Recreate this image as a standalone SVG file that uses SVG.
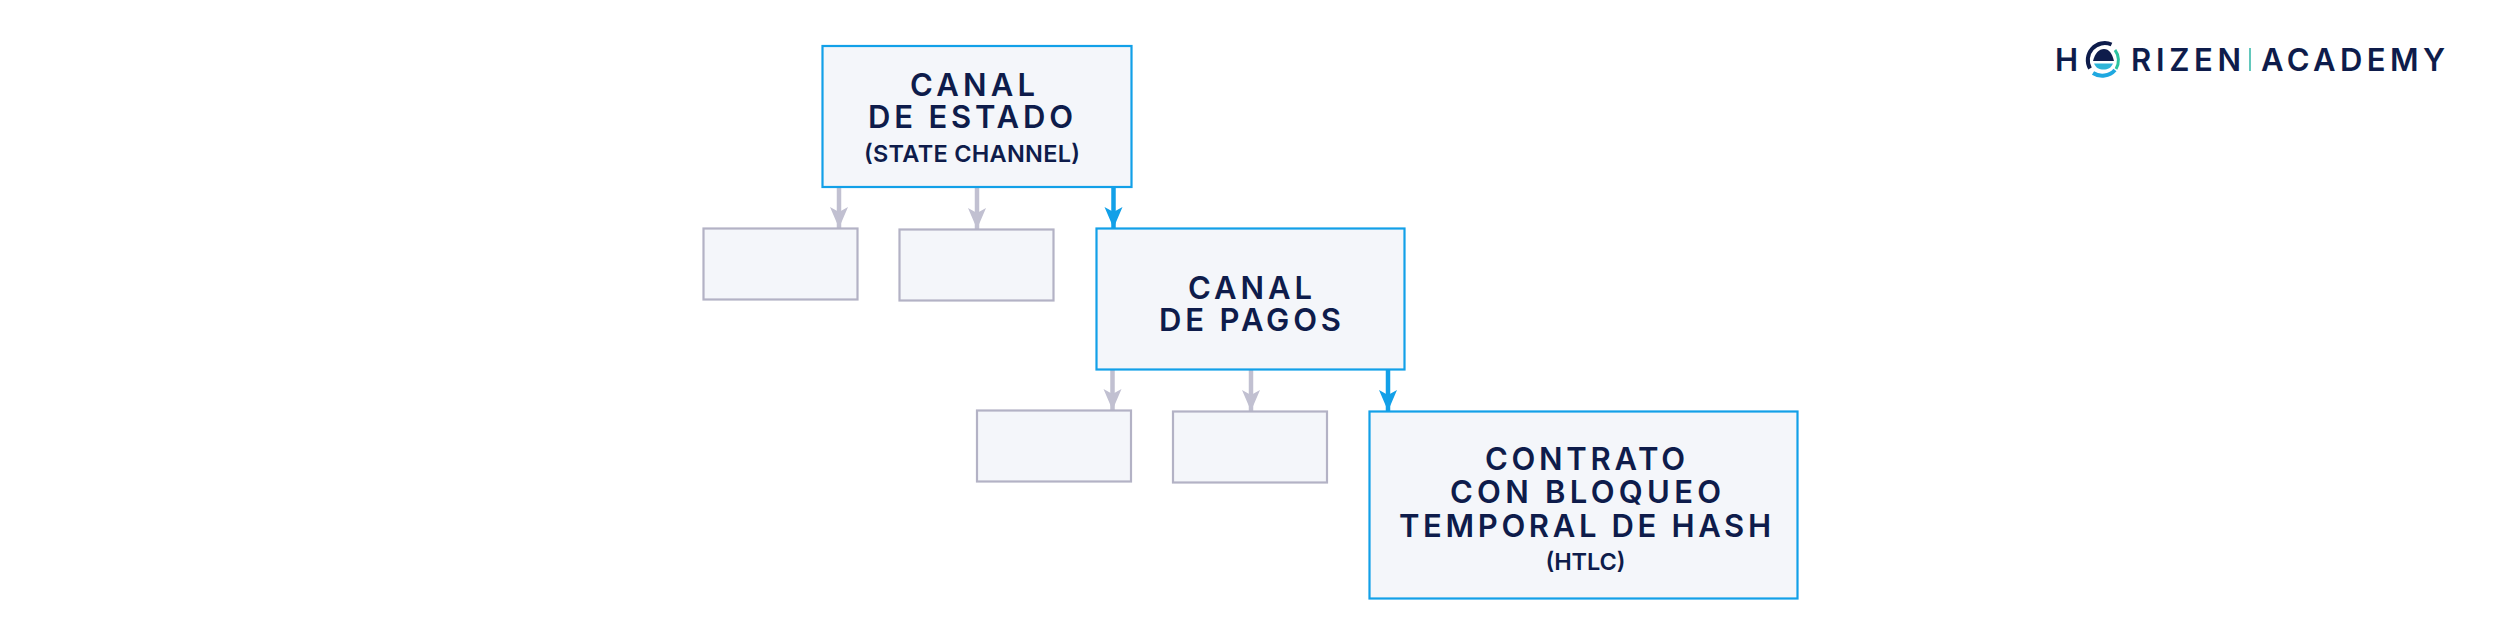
<svg xmlns="http://www.w3.org/2000/svg" width="2501" height="637" viewBox="0 0 2501 637">
<style>
.n{fill:#f4f6fa;stroke-width:2.200}
.b{stroke:#12a0e8}
.g{stroke:#b3b2c5}
text{font-family:"Inter","Liberation Sans",sans-serif;fill:#0e1c4b;text-anchor:start}
.t{font-size:31px;font-weight:600}
.s{font-size:23.500px;font-weight:600}
.l{font-size:31px;font-weight:600}
.cg{stroke:#c1c0d1;stroke-width:4.500;fill:none}
.cb{stroke:#12a0e8;stroke-width:4.500;fill:none}
</style>
<defs>
<marker id="ag" markerUnits="userSpaceOnUse" markerWidth="20" markerHeight="23" refX="10" refY="22" viewBox="0 0 20 23"><path d="M10 22 L1 1 L10 6 L19 1Z" fill="#c1c0d1"/></marker>
<marker id="ab" markerUnits="userSpaceOnUse" markerWidth="20" markerHeight="23" refX="10" refY="22" viewBox="0 0 20 23"><path d="M10 22 L1 1 L10 6 L19 1Z" fill="#12a0e8"/></marker>
</defs>
<g id="connectors">
<path class="cg" d="M839 188V228" marker-end="url(#ag)"/>
<path class="cg" d="M977 188V229" marker-end="url(#ag)"/>
<path class="cb" d="M1113.500 188V228" marker-end="url(#ab)"/>
<path class="cg" d="M1112.500 370V410" marker-end="url(#ag)"/>
<path class="cg" d="M1251 370V411" marker-end="url(#ag)"/>
<path class="cb" d="M1388 370V411" marker-end="url(#ab)"/>
</g>
<g id="n1"><rect class="n b" x="822.500" y="46" width="309" height="141"/>
<text class="t" x="910" y="96" textLength="125">CANAL</text><text class="t" x="868" y="128" textLength="205">DE ESTADO</text><text class="s" x="864" y="162" textLength="216">(STATE CHANNEL)</text></g>
<g id="n2"><rect class="n g" x="703.500" y="228.500" width="154" height="71"/></g>
<g id="n3"><rect class="n g" x="899.500" y="229.500" width="154" height="71"/></g>
<g id="n4"><rect class="n b" x="1096.500" y="228.500" width="308" height="141"/>
<text class="t" x="1188" y="299" textLength="124">CANAL</text><text class="t" x="1159" y="331" textLength="182">DE PAGOS</text></g>
<g id="n5"><rect class="n g" x="977" y="410.500" width="154" height="71"/></g>
<g id="n6"><rect class="n g" x="1173" y="411.500" width="154" height="71"/></g>
<g id="n7"><rect class="n b" x="1369.500" y="411.500" width="428" height="187"/>
<text class="t" x="1485" y="470" textLength="200">CONTRATO</text><text class="t" x="1450" y="503" textLength="271">CON BLOQUEO</text><text class="t" x="1399" y="537" textLength="372">TEMPORAL DE HASH</text><text class="s" x="1545.500" y="570" textLength="80">(HTLC)</text></g>
<g id="logo">
<text class="l" x="2055" y="71">H</text>
<text class="l" x="2131" y="71" textLength="110" lengthAdjust="spacing">RIZEN</text>
<path d="M2250 48V71" stroke="#2fb6a6" stroke-width="1.500"/>
<text class="l" x="2261" y="71" textLength="184" lengthAdjust="spacing">ACADEMY</text>
<path d="M2090 68.500A17 17 0 0 1 2111.500 44.500" fill="none" stroke="#0e1c4b" stroke-width="4"/>
<path d="M2093 73A17 17 0 0 0 2115 70" fill="none" stroke="#1fa8e0" stroke-width="4"/>
<path d="M2115 50A17 17 0 0 1 2116 69" fill="none" stroke="#2cc4a0" stroke-width="3"/>
<path d="M2093 61C2095 53 2099 49 2104 49C2109 49 2112 53 2114 61Z" fill="#0e1c4b"/>
<path d="M2094 63.500H2113C2111 68 2108 69.500 2103.500 69.500C2099 69.500 2096 68 2094 63.500Z" fill="#2cb4d8"/>
</g>
</svg>
